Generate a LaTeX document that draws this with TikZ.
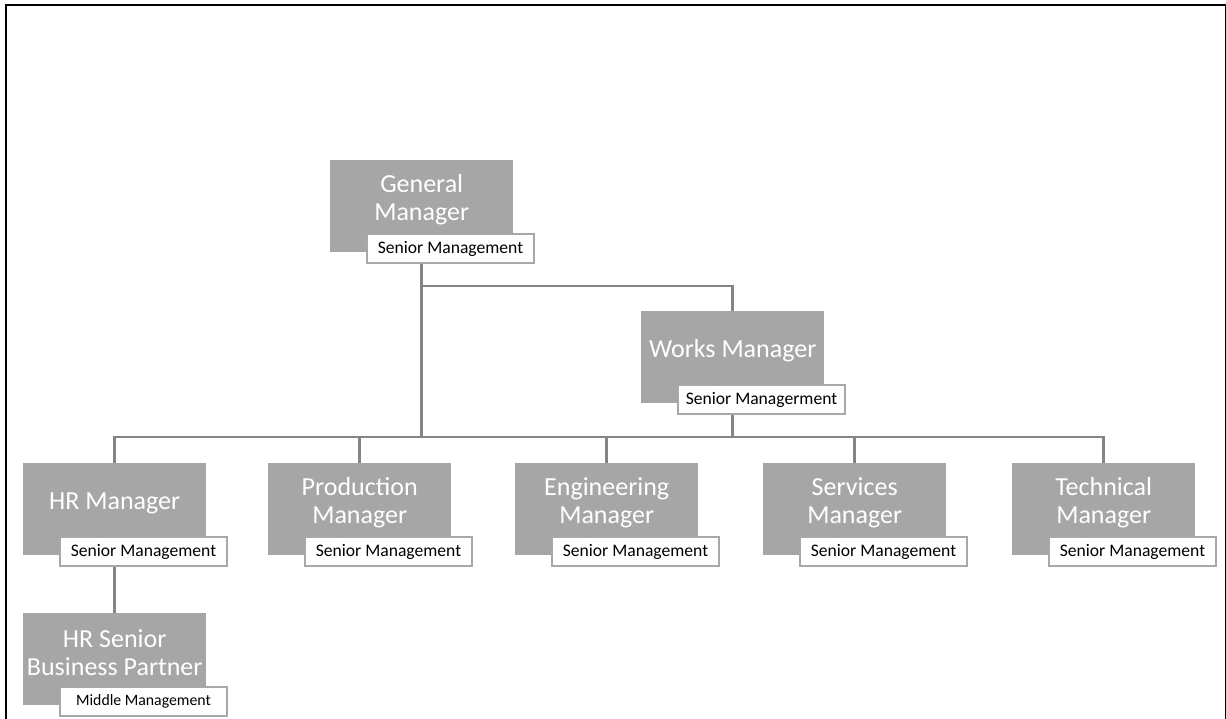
\documentclass[tikz,border=0pt]{standalone}
\usepackage{fontspec}
\setmainfont{Carlito}
\definecolor{boxgray}{HTML}{A6A6A6}
\definecolor{linkgray}{HTML}{858585}
\definecolor{tagedge}{HTML}{A8A8A8}
\tikzset{
  unitbox/.style={fill=boxgray, draw=none, minimum width=183pt, minimum height=92pt,
    anchor=north west, inner sep=0pt},
  unittitle/.style={text=white, align=center, font=\fontsize{26}{28}\selectfont, inner sep=0pt},
  tagbox/.style={fill=white, draw=tagedge, line width=2pt, minimum width=167pt,
    minimum height=29pt, anchor=north west, inner sep=0pt, font=\fontsize{17.6}{20}\selectfont},
  midtag/.style={tagbox, font=\fontsize{15.8}{18}\selectfont},
  link/.style={draw=linkgray, line width=2.6pt},
  frame/.style={draw=black, line width=2.6pt}
}
\begin{document}
\begin{tikzpicture}[x=1pt, y=-1pt]
\useasboundingbox (0,0) rectangle (1226,719);

% page frame
\draw[frame] (6,719) -- (6,5) -- (1226,5);
\draw[black, line width=1pt] (1225.5,5) -- (1225.5,719);

% unit boxes (grey body)
\node[unitbox] (gm)    at (330,160) {};
\node[unitbox] (wm)    at (641,311) {};
\node[unitbox] (hr)    at (23,463)  {};
\node[unitbox] (prod)  at (268,463) {};
\node[unitbox] (eng)   at (515,463) {};
\node[unitbox] (serv)  at (763,463) {};
\node[unitbox] (tech)  at (1012,463) {};
\node[unitbox] (hrsbp) at (23,613)  {};

% connectors
\coordinate (bar) at (0,437);
\coordinate (upper) at (0,286);
\draw[link] (gm.south) -- (gm.south |- bar);
\draw[link] (gm.south |- upper) -- (wm.north |- upper) -- (wm.north);
\draw[link] (wm.south) -- (wm.south |- bar);
\draw[link] (hr.north) -- (hr.north |- bar) -- (tech.north |- bar) -- (tech.north);
\draw[link] (prod.north |- bar) -- (prod.north);
\draw[link] (eng.north |- bar) -- (eng.north);
\draw[link] (serv.north |- bar) -- (serv.north);
\draw[link] (hr.south) -- (hrsbp.north);

% titles
\node[unittitle] (gm-t)    at ([yshift=-40pt]gm.north)    {General\\Manager};
\node[unittitle] (wm-t)    at ([yshift=-40pt]wm.north)    {Works Manager};
\node[unittitle] (hr-t)    at ([yshift=-40pt]hr.north)    {HR Manager};
\node[unittitle] (prod-t)  at ([yshift=-40pt]prod.north)  {Production\\Manager};
\node[unittitle] (eng-t)   at ([yshift=-40pt]eng.north)   {Engineering\\Manager};
\node[unittitle] (serv-t)  at ([yshift=-40pt]serv.north)  {Services\\Manager};
\node[unittitle] (tech-t)  at ([yshift=-40pt]tech.north)  {Technical\\Manager};
\node[unittitle] (hrsbp-t) at ([yshift=-40pt]hrsbp.north) {HR Senior\\Business Partner};

% level tags
\node[tagbox] (gm-l)    at ([xshift=36pt,yshift=-73pt]gm.north west)    {Senior Management};
\node[tagbox] (wm-l)    at ([xshift=36pt,yshift=-73pt]wm.north west)    {Senior Managerment};
\node[tagbox] (hr-l)    at ([xshift=36pt,yshift=-73pt]hr.north west)    {Senior Management};
\node[tagbox] (prod-l)  at ([xshift=36pt,yshift=-73pt]prod.north west)  {Senior Management};
\node[tagbox] (eng-l)   at ([xshift=36pt,yshift=-73pt]eng.north west)   {Senior Management};
\node[tagbox] (serv-l)  at ([xshift=36pt,yshift=-73pt]serv.north west)  {Senior Management};
\node[tagbox] (tech-l)  at ([xshift=36pt,yshift=-73pt]tech.north west)  {Senior Management};
\node[midtag] (hrsbp-l) at ([xshift=36pt,yshift=-73pt]hrsbp.north west) {Middle Management};
\end{tikzpicture}
\end{document}
